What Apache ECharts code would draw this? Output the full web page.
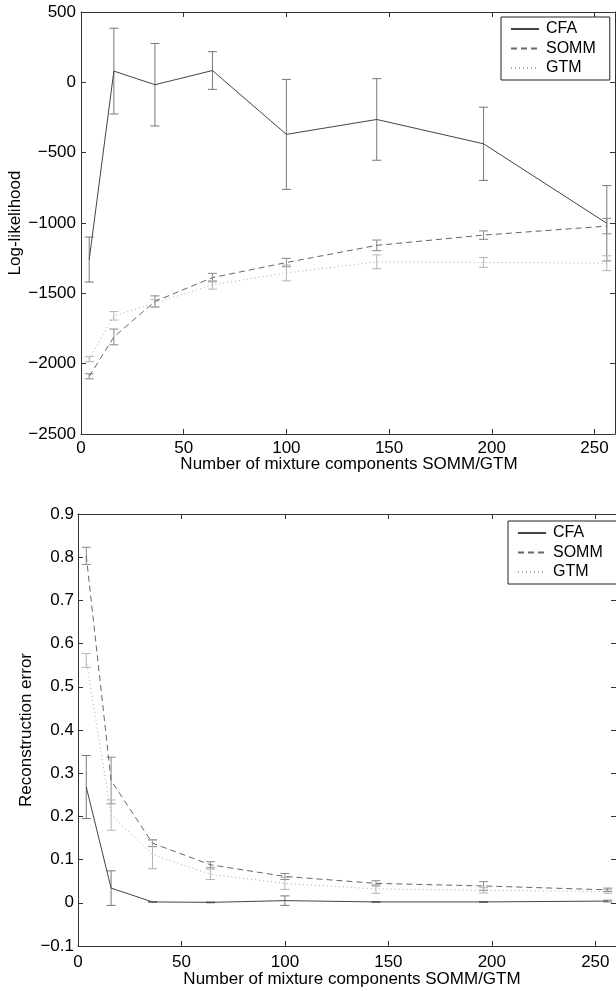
<!DOCTYPE html>
<html>
<head>
<meta charset="utf-8">
<script src="https://cdn.jsdelivr.net/npm/echarts@6/dist/echarts.min.js"></script>
<style>
html,body{margin:0;padding:0;background:#fff;}
#chart{width:616px;height:991px;}
</style>
</head>
<body>
<div id="chart"></div>
<script>
// Shared x values (number of mixture components)
const xVals = [4, 16, 36, 64, 100, 144, 196, 256];
const seriesNames = ['CFA', 'SOMM', 'GTM'];

// Top panel: log-likelihood (mean and half error-bar length)
const llCFA = [-1260, 80, -17, 84, -370, -264, -437, -1002];
const llCFAErr = [160, 305, 293, 134, 391, 290, 260, 268];
const llSOMM = [-2090, -1810, -1558, -1388, -1281, -1159, -1086, -1022];
const llSOMMErr = [18, 56, 40, 30, 30, 38, 30, 55];
const llGTM = [-1968, -1660, -1570, -1440, -1355, -1276, -1280, -1286];
const llGTMErr = [18, 30, 25, 30, 56, 49, 35, 53];

// Bottom panel: reconstruction error
const reCFA = [0.268, 0.034, 0.002, 0.001, 0.005, 0.002, 0.002, 0.004];
const reCFAErr = [0.073, 0.040, 0.001, 0.001, 0.011, 0.001, 0.001, 0.002];
const reSOMM = [0.803, 0.283, 0.138, 0.088, 0.061, 0.045, 0.039, 0.030];
const reSOMMErr = [0.020, 0.054, 0.008, 0.007, 0.007, 0.006, 0.010, 0.004];
const reGTM = [0.561, 0.203, 0.112, 0.066, 0.045, 0.032, 0.029, 0.026];
const reGTMErr = [0.016, 0.035, 0.033, 0.012, 0.014, 0.010, 0.006, 0.004];

const FONT = 'Liberation Sans, Arial, Helvetica, sans-serif';
const AX = '#333';

const styles = {
  CFA:  {line: '#444', bar: '#777', type: 'solid'},
  SOMM: {line: '#666', bar: '#888', type: [6, 4]},
  GTM:  {line: '#aaa', bar: '#b4b4b4', type: [1, 3]}
};

function pairs(m) { return xVals.map((x, i) => [x, m[i]]); }
function errs(m, e) { return xVals.map((x, i) => [x, m[i] - e[i], m[i] + e[i]]); }

function errRender(params, api) {
  const x = api.value(0), lo = api.value(1), hi = api.value(2);
  const p1 = api.coord([x, lo]);
  const p2 = api.coord([x, hi]);
  const w = 4.5;
  const st = {stroke: api.visual('color'), lineWidth: 1, fill: null};
  return {
    type: 'group',
    children: [
      {type: 'line', shape: {x1: p1[0], y1: p1[1], x2: p2[0], y2: p2[1]}, style: st},
      {type: 'line', shape: {x1: p1[0] - w, y1: p1[1], x2: p1[0] + w, y2: p1[1]}, style: st},
      {type: 'line', shape: {x1: p2[0] - w, y1: p2[1], x2: p2[0] + w, y2: p2[1]}, style: st}
    ]
  };
}

function lineSeries(name, data, xi, yi) {
  const s = styles[name];
  return {
    name: name, type: 'line', data: pairs(data), xAxisIndex: xi, yAxisIndex: yi,
    symbol: 'none', silent: true, z: 3,
    itemStyle: {color: s.line},
    lineStyle: {color: s.line, width: 1, type: s.type}
  };
}
function errSeries(name, m, e, xi, yi) {
  return {
    type: 'custom', name: name + ' err', renderItem: errRender, data: errs(m, e),
    xAxisIndex: xi, yAxisIndex: yi, encode: {x: 0, y: [1, 2]},
    itemStyle: {color: styles[name].bar}, silent: true, z: 2, clip: false
  };
}

function xAx(gi, pos, show, margin) {
  return {
    type: 'value', gridIndex: gi, position: pos, min: 0, max: 260, interval: 50,
    axisLine: {show: true, onZero: false, lineStyle: {color: AX, width: 1}},
    axisTick: {show: true, inside: true, length: 5, lineStyle: {color: AX}},
    axisLabel: {show: show, color: '#000', fontSize: 17, fontFamily: FONT, margin: margin,
      showMaxLabel: false},
    splitLine: {show: false}
  };
}
function yAx(gi, pos, show, min, max, interval, fmt, margin) {
  return {
    type: 'value', gridIndex: gi, position: pos, min: min, max: max, interval: interval,
    axisLine: {show: true, onZero: false, lineStyle: {color: AX, width: 1}},
    axisTick: {show: true, inside: true, length: 5, lineStyle: {color: AX}},
    axisLabel: {show: show, color: '#000', fontSize: 17, fontFamily: FONT, margin: margin, formatter: fmt},
    splitLine: {show: false}
  };
}

const fmtTop = v => String(v).replace('-', '\u2212');
const fmtBot = v => (Math.abs(v) < 1e-9 ? '0' : v.toFixed(1).replace('-', '\u2212'));

function legend(left, top) {
  return {
    data: seriesNames,
    orient: 'vertical', left: left, top: top,
    backgroundColor: '#fff', borderColor: '#222', borderWidth: 1, borderRadius: 0,
    padding: [4, 14, 4, 9], itemGap: 3.5, itemWidth: 28, itemHeight: 12,
    itemStyle: {opacity: 0},
    textStyle: {fontSize: 16, fontFamily: FONT, color: '#000', lineHeight: 16, padding: [0, 0, 0, 2]},
    selectedMode: false
  };
}

const chart = echarts.init(document.getElementById('chart'), null, {renderer: 'canvas'});
chart.setOption({
  animation: false,
  backgroundColor: '#fff',
  grid: [
    {left: 81, right: 1, top: 12, height: 422, containLabel: false},
    {left: 78, right: -10, top: 514, height: 432, containLabel: false}
  ],
  xAxis: [
    xAx(0, 'bottom', true, 6),
    xAx(0, 'top', false, 6),
    xAx(1, 'bottom', true, 8),
    xAx(1, 'top', false, 8)
  ],
  yAxis: [
    yAx(0, 'left', true, -2500, 500, 500, fmtTop, 5),
    yAx(0, 'right', false, -2500, 500, 500, fmtTop, 5),
    yAx(1, 'left', true, -0.1, 0.9, 0.1, fmtBot, 4),
    yAx(1, 'right', false, -0.1, 0.9, 0.1, fmtBot, 4)
  ],
  legend: [legend(501, 17), legend(508, 521)],
  graphic: [
    {type: 'text', x: 15, y: 223, rotation: Math.PI / 2,
      style: {text: 'Log-likelihood', font: '17px ' + FONT, fill: '#000', align: 'center', verticalAlign: 'middle'}},
    {type: 'text', x: 349, y: 464,
      style: {text: 'Number of mixture components SOMM/GTM', font: '17px ' + FONT, fill: '#000', align: 'center', verticalAlign: 'middle'}},
    {type: 'text', x: 26, y: 730, rotation: Math.PI / 2,
      style: {text: 'Reconstruction error', font: '17px ' + FONT, fill: '#000', align: 'center', verticalAlign: 'middle'}},
    {type: 'text', x: 352, y: 979,
      style: {text: 'Number of mixture components SOMM/GTM', font: '17px ' + FONT, fill: '#000', align: 'center', verticalAlign: 'middle'}}
  ],
  series: [
    lineSeries('CFA', llCFA, 0, 0),
    lineSeries('SOMM', llSOMM, 0, 0),
    lineSeries('GTM', llGTM, 0, 0),
    errSeries('CFA', llCFA, llCFAErr, 0, 0),
    errSeries('SOMM', llSOMM, llSOMMErr, 0, 0),
    errSeries('GTM', llGTM, llGTMErr, 0, 0),
    lineSeries('CFA', reCFA, 2, 2),
    lineSeries('SOMM', reSOMM, 2, 2),
    lineSeries('GTM', reGTM, 2, 2),
    errSeries('CFA', reCFA, reCFAErr, 2, 2),
    errSeries('SOMM', reSOMM, reSOMMErr, 2, 2),
    errSeries('GTM', reGTM, reGTMErr, 2, 2)
  ]
});
</script>
</body>
</html>
